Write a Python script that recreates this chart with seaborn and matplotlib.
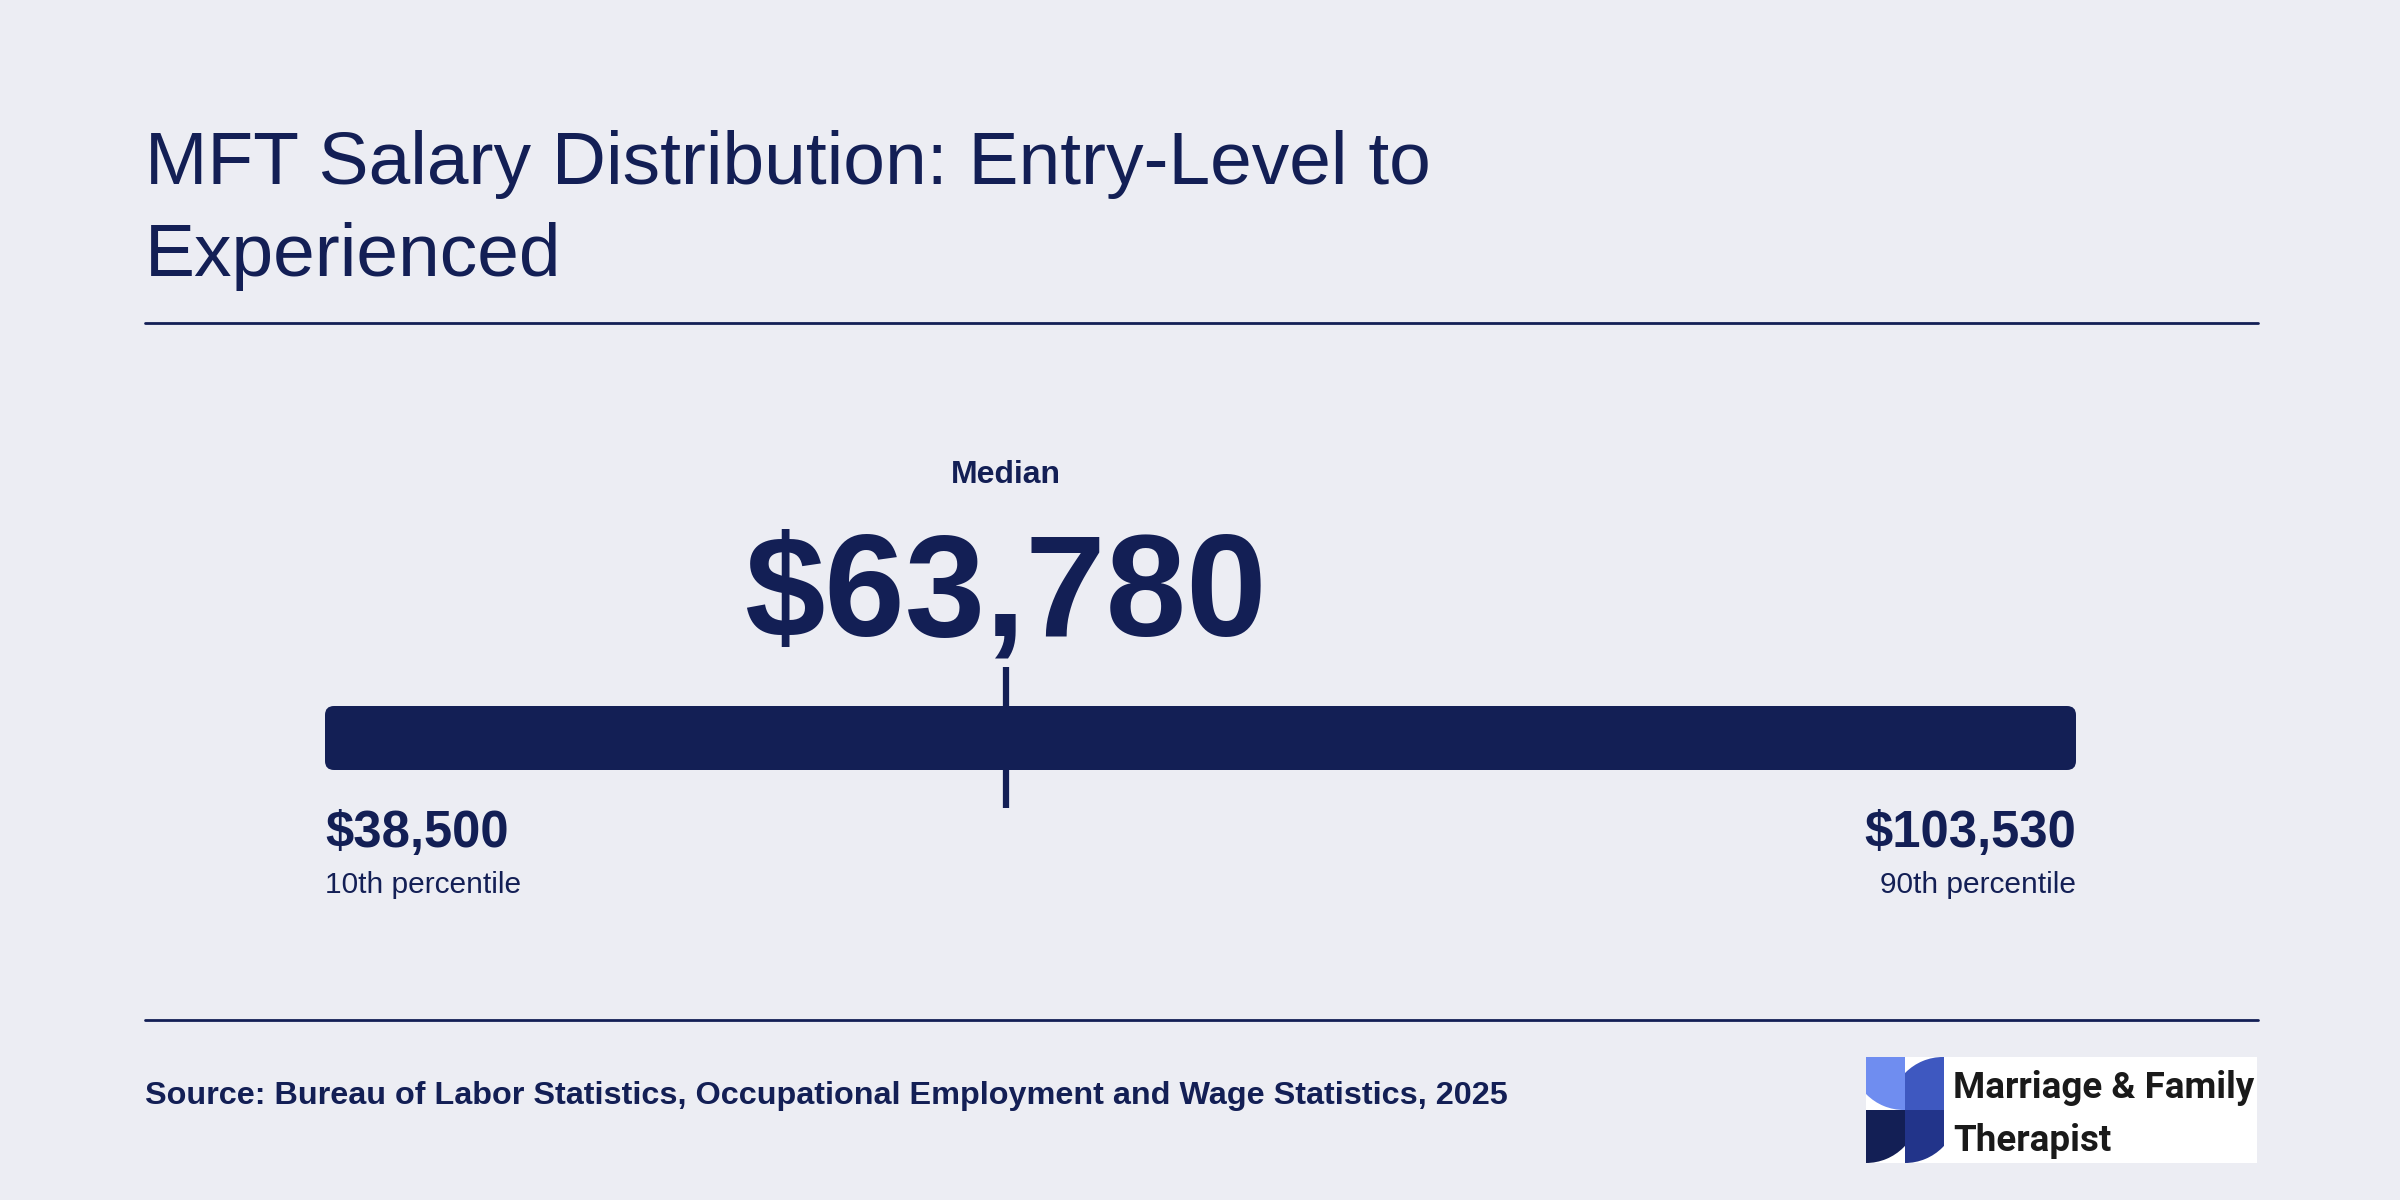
import matplotlib
matplotlib.use("Agg")
import matplotlib.pyplot as plt
import seaborn as sns
from matplotlib.patches import FancyBboxPatch, Rectangle, Wedge

sns.set_theme(style="white")
plt.rcParams['font.family'] = ['Liberation Sans', 'DejaVu Sans']

# data
title_lines = ["MFT Salary Distribution: Entry-Level to", "Experienced"]
low_value = 38500
median_value = 63780
high_value = 103530
low_label = "10th percentile"
high_label = "90th percentile"
source = "Source: Bureau of Labor Statistics, Occupational Employment and Wage Statistics, 2025"

BG = "#ecedf3"
NAVY = "#131f55"

fig = plt.figure(figsize=(24, 12), dpi=100)
fig.patch.set_facecolor(BG)

# overlay in pixel coords
ov = fig.add_axes([0, 0, 1, 1])
ov.set_xlim(0, 2400)
ov.set_ylim(1200, 0)
ov.axis("off")

ov.text(145, 184, title_lines[0], fontsize=54, color=NAVY, va="baseline")
ov.text(145, 276, title_lines[1], fontsize=54, color=NAVY, va="baseline")
ov.plot([145, 2258], [323, 323], color=NAVY, lw=2)
ov.plot([145, 2258], [1020, 1020], color=NAVY, lw=2)
ov.text(145, 1104, source, fontsize=23.3, color=NAVY, weight="bold", va="baseline")

# bar axes: x in dollars, y in pixels
x0, x1 = 325, 2076
y0, y1 = 660, 815
bx = fig.add_axes([x0 / 2400, 1 - y1 / 1200, (x1 - x0) / 2400, (y1 - y0) / 1200])
bx.set_xlim(low_value, high_value)
bx.set_ylim(y1, y0)
bx.axis("off")
bx.patch.set_alpha(0)
units_per_px = (high_value - low_value) / (x1 - x0)
rad = 9
bar = FancyBboxPatch((low_value, 706), high_value - low_value, 64,
                     boxstyle=f"round,pad=0,rounding_size={rad * units_per_px}",
                     mutation_aspect=1 / units_per_px, fc=NAVY, ec="none")
bx.add_patch(bar)
bx.vlines(median_value, 667, 808, color=NAVY, lw=4.5)

bx.text(median_value, 483, "Median", fontsize=23, weight="bold", color=NAVY,
        ha="center", va="baseline", clip_on=False)
bx.text(median_value, 635, f"${median_value:,}", fontsize=104, weight="bold", color=NAVY,
        ha="center", va="baseline", clip_on=False)
bx.text(low_value, 847, f"${low_value:,}", fontsize=36.5, weight="bold", color=NAVY,
        ha="left", va="baseline", clip_on=False)
bx.text(low_value, 893, low_label, fontsize=21.5, color=NAVY, ha="left", va="baseline", clip_on=False)
bx.text(high_value, 847, f"${high_value:,}", fontsize=36.5, weight="bold", color=NAVY,
        ha="right", va="baseline", clip_on=False)
bx.text(high_value, 893, high_label, fontsize=21.5, color=NAVY, ha="right", va="baseline", clip_on=False)

# logo (pixel units, y up)
lg = fig.add_axes([1866 / 2400, 1 - 1163 / 1200, 391 / 2400, 106 / 1200])
lg.set_xlim(0, 391)
lg.set_ylim(0, 106)
lg.axis("off")
lg.add_patch(Rectangle((0, 0), 391, 106, fc="white", ec="none"))
cells = [
    ((0, 53), (38, 106), "#6f8df0"),
    ((39, 53), (77, 53), "#3e58c0"),
    ((0, 0), (0, 53), "#131f55"),
    ((39, 0), (39, 53), "#22348a"),
]
for (cx, cy), center, col in cells:
    clip = Rectangle((cx, cy), 38.5, 53, transform=lg.transData)
    w = Wedge(center, 53, 0, 360, fc=col, ec="none")
    lg.add_patch(w)
    w.set_clip_path(clip)
lg.text(87, 65, "Marriage & Family", fontsize=26.5, weight="bold", color="#1a1a1a",
        va="baseline", family=["Roboto", "DejaVu Sans"])
lg.text(87, 12, "Therapist", fontsize=26.5, weight="bold", color="#1a1a1a",
        va="baseline", family=["Roboto", "DejaVu Sans"])

fig.savefig("out.png", dpi=100, facecolor=BG)
